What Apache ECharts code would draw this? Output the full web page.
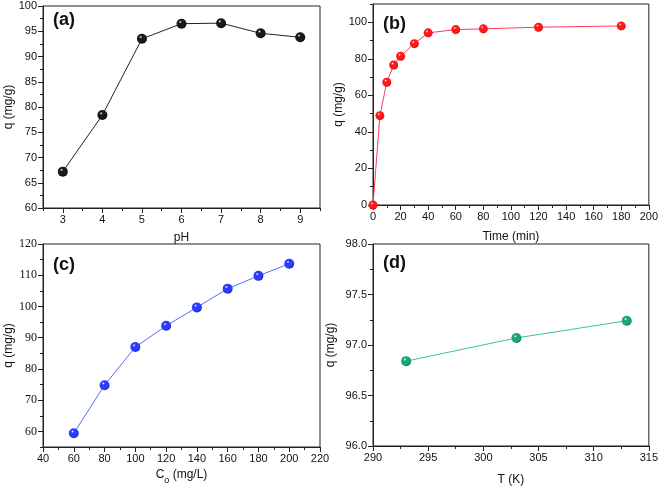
<!DOCTYPE html>
<html>
<head>
<meta charset="utf-8">
<script src="https://cdn.jsdelivr.net/npm/echarts@6/dist/echarts.min.js"></script>
<style>html,body{margin:0;padding:0;background:#fff;}#c{width:661px;height:489px;}</style>
</head>
<body>
<div id="c"></div>
<script>
// Panel (a): pH effect
const phValues = [3, 4, 5, 6, 7, 8, 9];
const qPh = [67.2, 78.4, 93.5, 96.5, 96.6, 94.6, 93.8];
// Panel (b): contact time
const timeValues = [0, 5, 10, 15, 20, 30, 40, 60, 80, 120, 180];
const qTime = [0, 48.9, 67.2, 76.6, 81.4, 88.3, 94.2, 96.0, 96.4, 97.3, 98.0];
// Panel (c): initial concentration
const concValues = [60, 80, 100, 120, 140, 160, 180, 200];
const qConc = [59.4, 74.8, 87.0, 93.8, 99.7, 105.7, 109.8, 113.7];
// Panel (d): temperature
const tempValues = [293, 303, 313];
const qTemp = [96.84, 97.07, 97.24];

// Tick labels
const xTicksA = [3, 4, 5, 6, 7, 8, 9];
const yTicksA = [60, 65, 70, 75, 80, 85, 90, 95, 100];
const xTicksB = [0, 20, 40, 60, 80, 100, 120, 140, 160, 180, 200];
const yTicksB = [0, 20, 40, 60, 80, 100];
const xTicksC = [40, 60, 80, 100, 120, 140, 160, 180, 200, 220];
const yTicksC = [60, 70, 80, 90, 100, 110, 120];
const xTicksD = [290, 295, 300, 305, 310, 315];
const yTicksD = [96.0, 96.5, 97.0, 97.5, 98.0];

const chart = echarts.init(document.getElementById('c'), null, {renderer: 'canvas'});

const sansFont = '"Liberation Sans", Arial, sans-serif';
const serifFont = '"Liberation Serif", "Times New Roman", serif';

function ball(c, dark) {
  return {
    type: 'radial', x: 0.38, y: 0.33, r: 0.7,
    colorStops: [
      {offset: 0, color: '#ffffff'},
      {offset: 0.22, color: c},
      {offset: 0.75, color: c},
      {offset: 1, color: dark}
    ]
  };
}

const grids = [
  {left: 43, top: 6, width: 277, height: 202},
  {left: 373, top: 4, width: 277, height: 201},
  {left: 43, top: 244, width: 277, height: 203},
  {left: 373, top: 244, width: 276, height: 202}
].map(g => Object.assign(g, {show: true, borderColor: '#222', borderWidth: 1, backgroundColor: 'transparent'}));

function mainX(gi, min, max, ticks, name, gap, fmt, nameRich) {
  return {
    type: 'value', gridIndex: gi, min: min, max: max, position: 'bottom',
    name: name, nameLocation: 'middle', nameGap: gap,
    nameTextStyle: Object.assign({fontFamily: sansFont, fontSize: 12, color: '#111'}, nameRich ? {rich: nameRich} : {}),
    axisLine: {show: true, onZero: false, lineStyle: {color: '#222', width: 1}},
    axisTick: {show: true, inside: false, length: 5, customValues: ticks, lineStyle: {color: '#222'}},
    axisLabel: {show: true, customValues: ticks, margin: 6, fontFamily: sansFont, fontSize: 11, color: '#111',
      formatter: fmt || (v => String(v))},
    splitLine: {show: false}
  };
}
function minorX(gi, min, max, step) {
  return {
    type: 'value', gridIndex: gi, min: min, max: max, interval: step, position: 'bottom',
    axisLine: {show: false, onZero: false},
    axisTick: {show: true, inside: false, length: 3, lineStyle: {color: '#222'}},
    axisLabel: {show: false}, splitLine: {show: false}
  };
}
function mainY(gi, min, max, ticks, gap, fmt, font, fsize) {
  return {
    type: 'value', gridIndex: gi, min: min, max: max, position: 'left',
    name: 'q (mg/g)', nameLocation: 'middle', nameGap: gap, nameRotate: 90,
    nameTextStyle: {fontFamily: sansFont, fontSize: 12, color: '#111'},
    axisLine: {show: true, onZero: false, lineStyle: {color: '#222', width: 1}},
    axisTick: {show: true, inside: false, length: 5, customValues: ticks, lineStyle: {color: '#222'}},
    axisLabel: {show: true, customValues: ticks, margin: 6, fontFamily: font || sansFont, fontSize: fsize || 11, color: '#111',
      formatter: fmt || (v => String(v))},
    splitLine: {show: false}
  };
}
function minorY(gi, min, max, step) {
  return {
    type: 'value', gridIndex: gi, min: min, max: max, interval: step, position: 'left',
    axisLine: {show: false, onZero: false},
    axisTick: {show: true, inside: false, length: 3, lineStyle: {color: '#222'}},
    axisLabel: {show: false}, splitLine: {show: false}
  };
}

const xAxes = [
  mainX(0, 2.5, 9.5, xTicksA, 'pH', 24),
  mainX(1, 0, 200, xTicksB, 'Time (min)', 26),
  mainX(2, 40, 220, xTicksC, '{a|C}{s|o}{a| (mg/L)}', 22, null,
    {a: {fontFamily: sansFont, fontSize: 12, color: '#111', lineHeight: 16, verticalAlign: 'top'},
     s: {fontFamily: sansFont, fontSize: 9, color: '#111', lineHeight: 11, verticalAlign: 'bottom'}}),
  mainX(3, 290, 315, xTicksD, 'T (K)', 28),
  minorX(0, 2.5, 9.5, 0.5),
  minorX(1, 0, 200, 10),
  minorX(2, 40, 220, 10),
  minorX(3, 290, 315, 2.5)
];
const yAxes = [
  mainY(0, 60, 100, yTicksA, 27),
  mainY(1, 0, 110, yTicksB, 27),
  mainY(2, 55, 120, yTicksC, 27, null, serifFont, 12),
  mainY(3, 96, 98, yTicksD, 36, v => v.toFixed(1)),
  minorY(0, 60, 100, 2.5),
  minorY(1, 0, 110, 10),
  minorY(2, 55, 120, 5),
  minorY(3, 96, 98, 0.25)
];

function pairs(xs, ys) { return xs.map((x, i) => [x, ys[i]]); }

function lineSeries(idx, xs, ys, lineColor, ballColor, dark, size) {
  return {
    type: 'line', xAxisIndex: idx, yAxisIndex: idx,
    data: pairs(xs, ys), symbol: 'circle', symbolSize: size || 9, clip: false,
    lineStyle: {color: lineColor, width: 1},
    itemStyle: {color: ball(ballColor, dark), borderWidth: 0},
    emphasis: {disabled: true}, animation: false, z: 5
  };
}

const series = [
  lineSeries(0, phValues, qPh, '#222222', '#1a1a1a', '#000000', 10),
  lineSeries(1, timeValues, qTime, '#ff3b5c', '#ff1a1a', '#c40000', 9),
  lineSeries(2, concValues, qConc, '#4f6fff', '#2b3cff', '#1a1fb0', 10),
  lineSeries(3, tempValues, qTemp, '#3cc595', '#1aa57a', '#0b6e4e', 10)
];

function panelLabel(txt, x, y) {
  return {type: 'text', left: x, top: y, z: 10,
    style: {text: txt, fontFamily: sansFont, fontWeight: 'bold', fontSize: 18, fill: '#111'}};
}

chart.setOption({
  animation: false,
  backgroundColor: '#ffffff',
  grid: grids,
  xAxis: xAxes,
  yAxis: yAxes,
  series: series,
  graphic: [
    panelLabel('(a)', 53, 11),
    panelLabel('(b)', 383, 15),
    panelLabel('(c)', 53, 256),
    panelLabel('(d)', 383, 254)
  ]
});
</script>
</body>
</html>
